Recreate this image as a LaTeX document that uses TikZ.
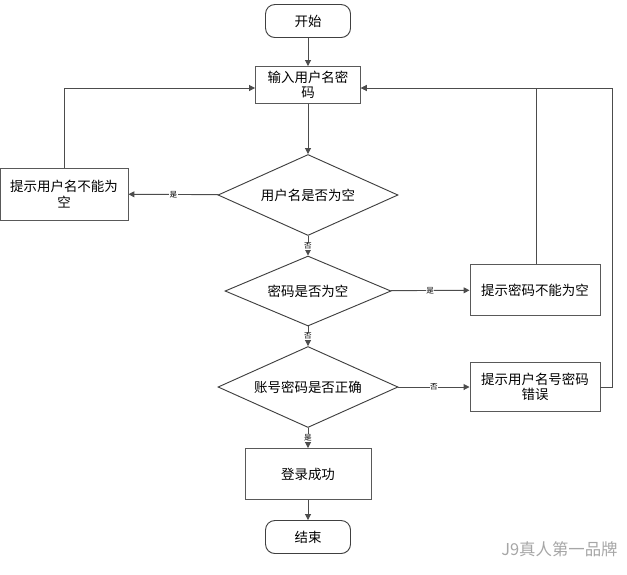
\documentclass[tikz,border=0pt]{standalone}
\usepackage{fontspec}
\setmainfont{Noto Sans CJK SC}
\usetikzlibrary{positioning,shapes.geometric,arrows.meta}
\begin{document}
\begin{tikzpicture}[x=0.03cm, y=-0.03cm, thick, font=\fontsize{11.5}{13}\selectfont]

        % Styles
        \tikzset{
          term/.style={draw=black!75, rounded corners=8pt, minimum width=85*0.03cm, minimum height=33*0.03cm},
          block/.style={draw=black!65, rectangle, align=center, inner sep=1pt},
          decision/.style={draw=black!75, diamond, aspect=2.2, inner sep=0pt},
          arrow/.style={->, >={Triangle[length=5pt,width=5pt]}, draw=black!70},
          lbl/.style={font=\fontsize{6.5}{7}\selectfont, fill=white, inner sep=0.5pt}
        }
        \useasboundingbox (0,0) rectangle (627,574);

        % Nodes
        \node [term] (start) at (308,21) {开始};
        \node [block, minimum width=105*0.03cm, minimum height=37*0.03cm] (input) at (308,85) {输入用户名密\\码};
        \node [decision, minimum width=180*0.03cm, minimum height=81*0.03cm] (userempty) at (308,195) {用户名是否为空};
        \node [block, minimum width=128*0.03cm, minimum height=52*0.03cm] (usertip) at (64,194) {提示用户名不能为\\空};
        \node [decision, minimum width=166*0.03cm, minimum height=70*0.03cm] (pwdempty) at (308,291) {密码是否为空};
        \node [block, minimum width=130*0.03cm, minimum height=51*0.03cm] (pwdtip) at (535,290) {提示密码不能为空};
        \node [decision, minimum width=180*0.03cm, minimum height=81*0.03cm] (check) at (308,387) {账号密码是否正确};
        \node [block, minimum width=130*0.03cm, minimum height=49*0.03cm] (errtip) at (535,387) {提示用户名号密码\\错误};
        \node [block, minimum width=126*0.03cm, minimum height=51*0.03cm] (success) at (308,474) {登录成功};
        \node [term] (stop) at (308,537) {结束};
        \node [text=black!35, font=\fontsize{14}{16}\selectfont, anchor=east] (mark) at (622,549) {J9真人第一品牌};

        \coordinate (ul) at (64,88);
        \coordinate (pr) at (536,88);
        \coordinate (er) at (612,387);
        \coordinate (ert) at (612,88);

        % Arrows
        \draw[arrow] (start) -- (input);
        \draw[arrow] (input) -- (userempty);
        \draw[arrow] (userempty) -- node[lbl] {是} (usertip);
        \draw[arrow] (userempty) -- node[lbl] {否} (pwdempty);
        \draw[arrow] (pwdempty) -- node[lbl] {是} (pwdtip);
        \draw[arrow] (pwdempty) -- node[lbl] {否} (check);
        \draw[arrow] (check) -- node[lbl] {否} (errtip);
        \draw[arrow] (check) -- node[lbl] {是} (success);
        \draw[arrow] (success) -- (stop);
        \draw[arrow] (usertip.north -| ul) -- (ul) -- (input.west |- ul);
        \draw[arrow] (pwdtip.north -| pr) -- (pr) -- (input.east |- pr);
        \draw[arrow] (errtip.east) -- (er) -- (ert) -- (input.east |- ert);

\end{tikzpicture}
\end{document}
